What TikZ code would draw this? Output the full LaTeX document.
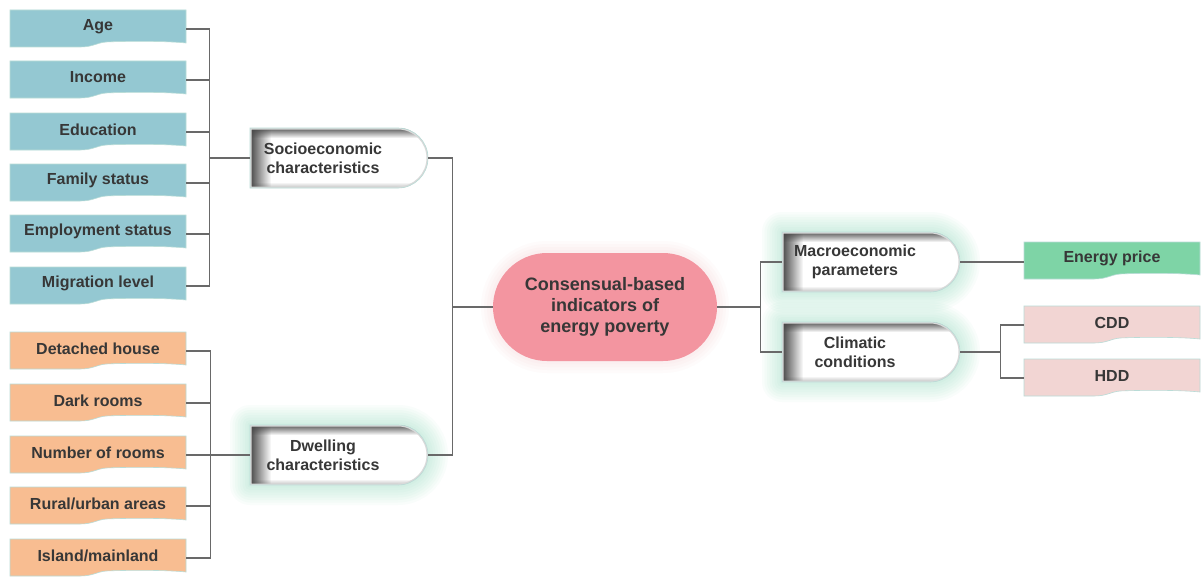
\documentclass[tikz,border=0pt]{standalone}
\usepackage{fontspec}
\setmainfont{Liberation Sans}
\usetikzlibrary{calc,fadings,backgrounds}
\definecolor{bluebox}{RGB}{148,200,210}
\definecolor{orangebox}{RGB}{248,189,145}
\definecolor{greenbox}{RGB}{126,212,166}
\definecolor{pinkbox}{RGB}{242,213,211}
\definecolor{centerpink}{RGB}{243,149,160}
\definecolor{txt}{RGB}{55,55,55}
\definecolor{linec}{RGB}{105,105,105}
\definecolor{glowc}{RGB}{120,212,175}
\definecolor{shadec}{RGB}{70,70,70}
\definecolor{rimc}{RGB}{185,220,215}
\tikzfading[name=fadeR, left color=transparent!0, right color=transparent!100]
\tikzfading[name=fadeD, top color=transparent!0, bottom color=transparent!100]
\tikzfading[name=fadeU, bottom color=transparent!0, top color=transparent!100]
\newcommand\leafpath{(-88,-19) -- (88,-19) -- (88,14) .. controls (70,12) and (30,12) .. (8,13) .. controls (-2,14) and (-5,18) .. (-18,18) -- (-88,18) -- cycle}
\newcommand\graypath{(-89,-30) -- (59,-30) .. controls (75.5,-30) and (89,-16.5) .. (89,0) .. controls (89,16.5) and (75.5,30) .. (59,30) -- (-89,30) -- cycle}
\newcommand\leafshape[2]{%
  \begin{scope}[shift={(#1.center)}]
    \fill[#2, draw=rimc, line width=0.6pt] \leafpath;
  \end{scope}}
\newcommand\grayshape[2]{% #1 node, #2 = 1 for glow
  \begin{scope}[shift={(#1.center)}]
    \ifnum#2=1
      \foreach \w in {40,35,30,25,20,15,10,5}{\draw[glowc, line width=\w pt, opacity=0.045, line join=round] \graypath;}
    \fi
    \fill[white] \graypath;
    \begin{scope}
      \clip \graypath;
      \fill[shadec, path fading=fadeR] (-89,-30) rectangle (-68,30);
      \fill[shadec, path fading=fadeD, opacity=0.9] (-89,-30) rectangle (89,-20);
      \fill[shadec, path fading=fadeU, opacity=0.35] (-89,24) rectangle (89,30);
      \draw[gray!30, line width=3pt] \graypath;
    \end{scope}
    \draw[rimc, line width=0.6pt] \graypath;
  \end{scope}}
\tikzset{
  leaf/.style={rectangle, minimum width=176pt, minimum height=37pt, inner sep=0pt},
  leaftext/.style={font=\fontsize{16}{19}\selectfont\bfseries, text=txt, yshift=2.5pt, inner sep=0pt},
  graynode/.style={rectangle, minimum width=178pt, minimum height=60pt, inner sep=0pt},
  graytext/.style={font=\fontsize{16}{19}\selectfont\bfseries, text=txt, xshift=-16pt, align=center, inner sep=0pt},
  mainnode/.style={rectangle, rounded corners=54pt, fill=centerpink, minimum width=224pt, minimum height=108pt, align=center, text=txt, font=\fontsize{18}{21.5}\selectfont\bfseries},
  conn/.style={draw=linec, line width=1.2pt}
}
\begin{document}
\begin{tikzpicture}[x=1pt, y=-1pt]
\useasboundingbox (0,0) rectangle (1202,578);
\begin{scope}[on background layer]
  \fill[white] (0,0) rectangle (1202,578);
\end{scope}
% leaves, left blue
\node[leaf] (age) at (98,29) {};
\node[leaf] (income) at (98,80) {};
\node[leaf] (education) at (98,132) {};
\node[leaf] (family) at (98,183) {};
\node[leaf] (employment) at (98,234) {};
\node[leaf] (migration) at (98,286) {};
% leaves, left orange
\node[leaf] (detached) at (98,351) {};
\node[leaf] (dark) at (98,403) {};
\node[leaf] (number) at (98,455) {};
\node[leaf] (rural) at (98,506) {};
\node[leaf] (island) at (98,558) {};
% leaves, right
\node[leaf] (energy) at (1112,261) {};
\node[leaf] (cdd) at (1112,325) {};
\node[leaf] (hdd) at (1112,378) {};
% gray nodes
\node[graynode] (socio) at (339,158) {};
\node[graynode] (dwelling) at (339,455) {};
\node[graynode] (macro) at (871,262) {};
\node[graynode] (climatic) at (871,352) {};
% main
\begin{scope}[on background layer]
  \foreach \w in {24,18,12,6}{\draw[centerpink, line width=\w pt, opacity=0.035, rounded corners=54pt] (493,253) rectangle (717,361);}
\end{scope}
\node[mainnode] (center) at (605,307) {\raisebox{-2pt}{\begin{tabular}{@{}c@{}}Consensual-based\\[-0.5pt]indicators of\\[-0.5pt]energy poverty\end{tabular}}};
% shapes
\begin{scope}[on background layer]
  \leafshape{age}{bluebox}
  \leafshape{income}{bluebox}
  \leafshape{education}{bluebox}
  \leafshape{family}{bluebox}
  \leafshape{employment}{bluebox}
  \leafshape{migration}{bluebox}
  \leafshape{detached}{orangebox}
  \leafshape{dark}{orangebox}
  \leafshape{number}{orangebox}
  \leafshape{rural}{orangebox}
  \leafshape{island}{orangebox}
  \leafshape{energy}{greenbox}
  \leafshape{cdd}{pinkbox}
  \leafshape{hdd}{pinkbox}
  \grayshape{socio}{0}
  \grayshape{dwelling}{1}
  \grayshape{macro}{1}
  \grayshape{climatic}{1}
\end{scope}
% texts
\node[leaftext] at (age.center) {Age};
\node[leaftext] at (income.center) {Income};
\node[leaftext] at (education.center) {Education};
\node[leaftext] at (family.center) {Family status};
\node[leaftext] at (employment.center) {Employment status};
\node[leaftext] at (migration.center) {Migration level};
\node[leaftext] at (detached.center) {Detached house};
\node[leaftext] at (dark.center) {Dark rooms};
\node[leaftext] at (number.center) {Number of rooms};
\node[leaftext] at (rural.center) {Rural/urban areas};
\node[leaftext] at (island.center) {Island/mainland};
\node[leaftext] at (energy.center) {Energy price};
\node[leaftext] at (cdd.center) {CDD};
\node[leaftext] at (hdd.center) {HDD};
\node[graytext] at (socio.center) {Socioeconomic\\characteristics};
\node[graytext] at (dwelling.center) {Dwelling\\characteristics};
\node[graytext] at (macro.center) {Macroeconomic\\parameters};
\node[graytext] at (climatic.center) {Climatic\\conditions};
% connectors
\foreach \n in {age,income,education,family,employment,migration}
  \draw[conn] (\n.east) -- ++(23,0) |- (socio.west);
\foreach \n in {detached,dark,number,rural,island}
  \draw[conn] (\n.east) -- ++(24,0) |- (dwelling.west);
\draw[conn] (socio.east) -- ++(24,0) |- (center.west);
\draw[conn] (dwelling.east) -- ++(24,0) |- (center.west);
\draw[conn] (center.east) -- ++(43,0) |- (macro.west);
\draw[conn] (center.east) -- ++(43,0) |- (climatic.west);
\draw[conn] (macro.east) -- (macro.east -| energy.west);
\draw[conn] (climatic.east) -- ++(40,0) |- (cdd.west);
\draw[conn] (climatic.east) -- ++(40,0) |- (hdd.west);
\end{tikzpicture}
\end{document}
